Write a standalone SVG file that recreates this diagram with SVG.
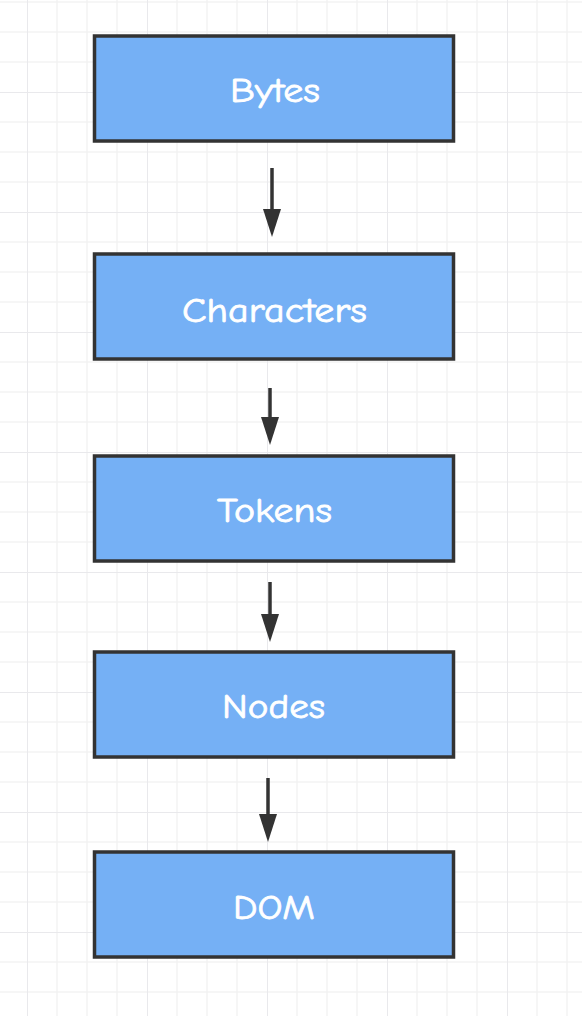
<svg xmlns="http://www.w3.org/2000/svg" width="582" height="1016" viewBox="0 0 582 1016">
  <defs>
    <pattern id="grid" x="27" y="92" width="120" height="120" patternUnits="userSpaceOnUse">
      <path d="M30 0V120M60 0V120M90 0V120M0 30H120M0 60H120M0 90H120" stroke="#f3f3f3" stroke-width="1.5" fill="none"/>
      <path d="M0 0V120M0 0H120" stroke="#e9e9ec" stroke-width="2" fill="none"/>
    </pattern>
    <marker id="ah" viewBox="0 0 28 18" markerWidth="28" markerHeight="18" markerUnits="userSpaceOnUse" refX="18" refY="9" orient="auto">
      <path d="M0 0L28 9L0 18z" fill="#333333"/>
    </marker>
    <style>
      .box { fill: #75b0f5; stroke: #333333; stroke-width: 3.5; }
      .lbl { font-family: "Comic Sans MS", "Comic Neue", "Open Sans", sans-serif; font-size: 35px; fill: #ffffff; stroke: #ffffff; stroke-width: 0.8; text-anchor: middle; }
      .conn { stroke: #333333; stroke-width: 3.5; fill: none; marker-end: url(#ah); }
    </style>
  </defs>
  <rect width="582" height="1016" fill="#ffffff"/>
  <rect width="582" height="1016" fill="url(#grid)"/>

  <g id="connectors">
    <line class="conn" x1="272" y1="168" x2="272" y2="227"/>
    <line class="conn" x1="270" y1="388" x2="270" y2="435"/>
    <line class="conn" x1="270" y1="582" x2="270" y2="632"/>
    <line class="conn" x1="268" y1="778" x2="268" y2="832"/>
  </g>

  <g id="bytes">
    <rect class="box" x="94.5" y="36" width="359" height="105"/>
    <text class="lbl" x="275" y="102" textLength="90" lengthAdjust="spacingAndGlyphs">Bytes</text>
  </g>
  <g id="characters">
    <rect class="box" x="94.5" y="254" width="359" height="105"/>
    <text class="lbl" x="274.5" y="322" textLength="185" lengthAdjust="spacingAndGlyphs">Characters</text>
  </g>
  <g id="tokens">
    <rect class="box" x="94.5" y="456" width="359" height="105"/>
    <text class="lbl" x="274.5" y="522" textLength="115" lengthAdjust="spacingAndGlyphs">Tokens</text>
  </g>
  <g id="nodes">
    <rect class="box" x="94.5" y="652" width="359" height="105"/>
    <text class="lbl" x="273.5" y="718" textLength="103" lengthAdjust="spacingAndGlyphs">Nodes</text>
  </g>
  <g id="dom">
    <rect class="box" x="94.5" y="852" width="359" height="105"/>
    <text class="lbl" x="274" y="919" textLength="82" lengthAdjust="spacingAndGlyphs">DOM</text>
  </g>
</svg>
